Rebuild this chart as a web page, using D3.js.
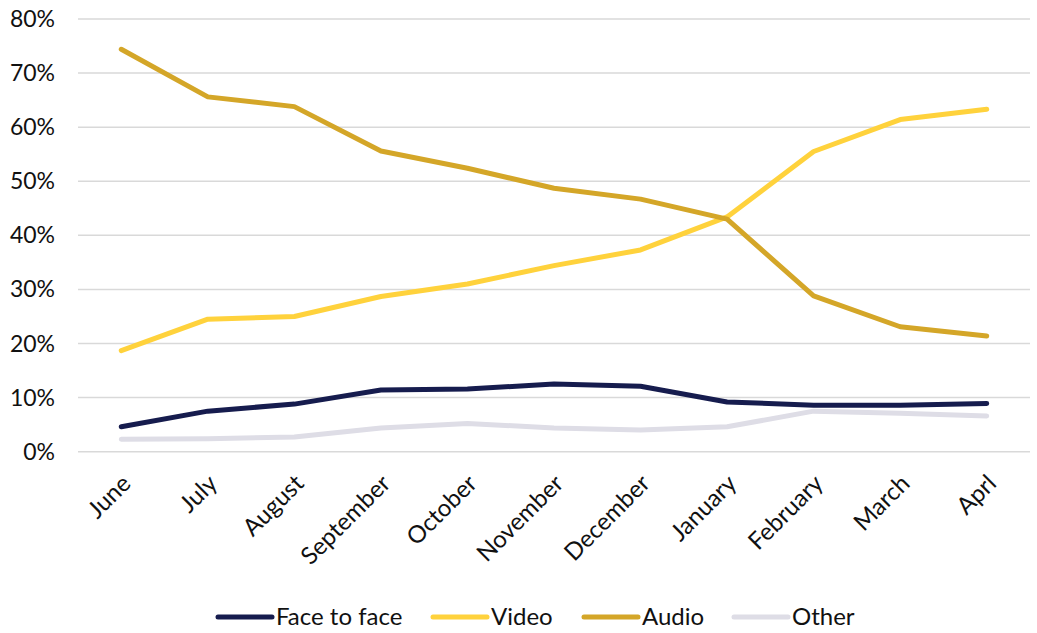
<!DOCTYPE html>
<html><head><meta charset="utf-8">
<script src="https://cdn.jsdelivr.net/npm/d3@7"></script>
<style>body{margin:0;background:#fff}svg{display:block}text{font-family:Lato,"Open Sans",sans-serif;fill:#111}</style>
</head><body><svg id="c" width="1037" height="633"></svg>
<script>
const months = ["June","July","August","September","October","November","December","January","February","March","Aprl"];
const faceToFace = [4.6,7.5,8.8,11.4,11.6,12.5,12.1,9.2,8.6,8.6,8.9];
const video = [18.7,24.5,25.0,28.7,31.0,34.4,37.3,43.4,55.5,61.4,63.3];
const audio = [74.4,65.6,63.8,55.6,52.4,48.7,46.7,43.0,28.8,23.1,21.4];
const other = [2.3,2.4,2.7,4.4,5.2,4.4,4.0,4.6,7.5,7.1,6.6];
const seriesNames = ["Face to face","Video","Audio","Other"];
const yTicks = [0,10,20,30,40,50,60,70,80];

const colors = ["#161c4e","#ffd23c","#d4a628","#dedde6"];
const seriesData = [faceToFace, video, audio, other];

const svg = d3.select("#c");
const pLeft = 78, pRight = 1030, pTop = 19, pBottom = 451.7;
const x = d3.scaleBand().domain(months).range([pLeft, pRight]);
const y = d3.scaleLinear().domain([0,80]).range([pBottom, pTop]);

svg.append("g").selectAll("line").data(yTicks).join("line")
  .attr("x1", pLeft).attr("x2", pRight)
  .attr("y1", d => y(d)).attr("y2", d => y(d))
  .attr("stroke", "#d9d9d9").attr("stroke-width", 1.5);

svg.append("g").selectAll("text").data(yTicks).join("text")
  .attr("x", 55).attr("y", d => y(d)).attr("dy", "0.35em")
  .attr("text-anchor", "end").attr("font-size", 23)
  .text(d => d + "%");

svg.append("g").selectAll("text").data(months).join("text")
  .attr("transform", d => `translate(${x(d) + x.bandwidth()/2 + 5},${479}) rotate(-45)`)
  .attr("text-anchor", "end").attr("dy", "0.35em").attr("font-size", 24)
  .text(d => d);

const line = d3.line().x((d,i) => x(months[i]) + x.bandwidth()/2).y(d => y(d));
const order = [3,0,1,2];
order.forEach(k => {
  svg.append("path").datum(seriesData[k])
    .attr("d", line).attr("fill", "none")
    .attr("stroke", colors[k]).attr("stroke-width", 5)
    .attr("stroke-linecap", "round").attr("stroke-linejoin", "round");
});

const legendX = [218, 433, 584, 734];
const lg = svg.append("g");
seriesNames.forEach((name, i) => {
  const sx = legendX[i];
  lg.append("line").attr("x1", sx).attr("x2", sx + 54)
    .attr("y1", 617).attr("y2", 617).attr("stroke", colors[i])
    .attr("stroke-width", 5).attr("stroke-linecap", "round");
  lg.append("text").attr("x", sx + 58).attr("y", 617).attr("dy", "0.35em")
    .attr("font-size", 24).text(name);
});
</script></body></html>
